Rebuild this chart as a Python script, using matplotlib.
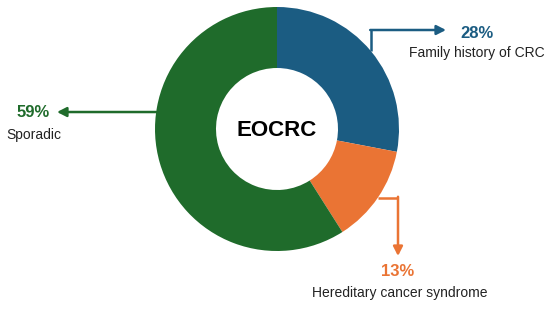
import matplotlib.pyplot as plt
import numpy as np

plt.rcParams['font.family'] = ['Liberation Sans', 'DejaVu Sans']

# data
labels = ['Family history of CRC', 'Hereditary cancer syndrome', 'Sporadic']
shares = [28, 13, 59]
colors = ['#1b5c82', '#ea7434', '#1f6b2b']

fig = plt.figure(figsize=(5.5, 3.09), dpi=100)
ax = fig.add_axes([0, 0, 1, 1])
ax.set_xlim(0, 550)
ax.set_ylim(0, 309)
ax.axis('off')

cx, cy, r = 277, 180, 122
wedges, _ = ax.pie(shares, colors=colors, startangle=90, counterclock=False,
                   radius=r, center=(cx, cy), frame=True,
                   wedgeprops=dict(width=r * 0.5, linewidth=0))
ax.set_xlim(0, 550)
ax.set_ylim(0, 309)
ax.axis('off')

ax.text(cx, cy - 2, 'EOCRC', ha='center', va='center', fontsize=16, fontweight='bold')

def edge(angle):
    a = np.deg2rad(angle)
    return cx + r * np.cos(a), cy + r * np.sin(a)

lw = 1.8
head = dict(arrowstyle='-|>,head_length=0.55,head_width=0.28', lw=lw, shrinkA=0, shrinkB=0)

# family history (blue)
w = wedges[0]
x0, y0 = edge((w.theta1 + w.theta2) / 2)
ax.plot([x0, x0], [y0, 279], color=colors[0], lw=lw, solid_capstyle='butt')
ax.annotate('', xy=(446, 279), xytext=(x0 - 0.8, 279),
            arrowprops=dict(head, color=colors[0]))
ax.text(477, 276, f'{shares[0]}%', ha='center', va='center', fontsize=12,
        fontweight='bold', color=colors[0])
ax.text(477, 256, labels[0], ha='center', va='center', fontsize=10, color='#222222')

# hereditary (orange)
w = wedges[1]
x0, y0 = edge((w.theta1 + w.theta2) / 2)
ax.plot([x0, 398], [y0, y0], color=colors[1], lw=lw, solid_capstyle='butt')
ax.annotate('', xy=(398, 53), xytext=(398, y0 + 0.8),
            arrowprops=dict(head, color=colors[1]))
ax.text(398, 37, f'{shares[1]}%', ha='center', va='center', fontsize=12,
        fontweight='bold', color=colors[1])
ax.text(400, 16, labels[1], ha='center', va='center', fontsize=10, color='#222222')

# sporadic (green)
x0, y0 = edge(172)
ax.annotate('', xy=(57, y0), xytext=(x0, y0),
            arrowprops=dict(head, color=colors[2]))
ax.text(33, y0, f'{shares[2]}%', ha='center', va='center', fontsize=12,
        fontweight='bold', color=colors[2])
ax.text(34, 174, labels[2], ha='center', va='center', fontsize=10, color='#222222')

fig.savefig('out.png', dpi=100)
